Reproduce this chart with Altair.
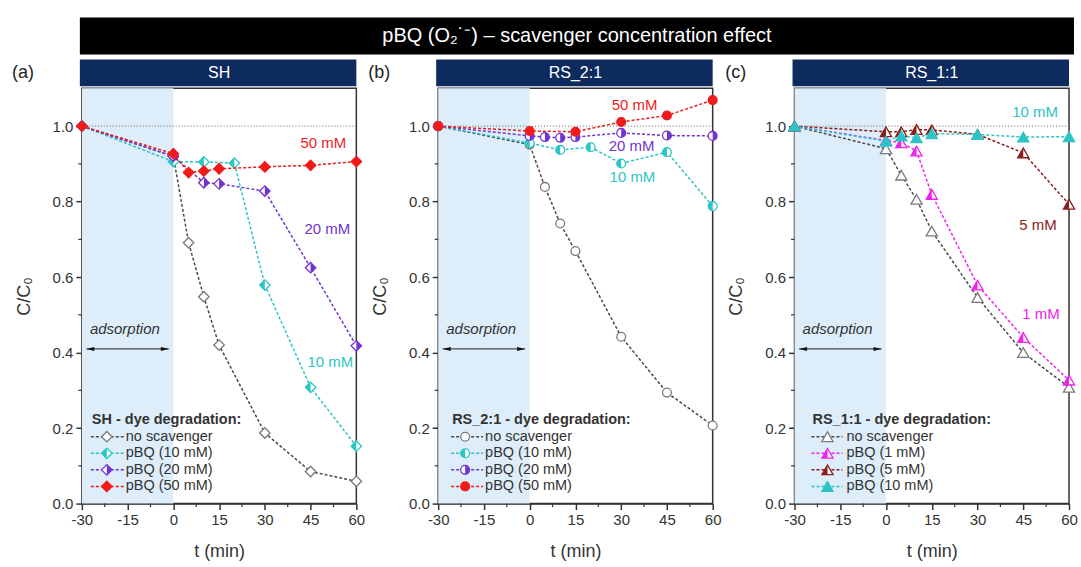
import altair as alt
import pandas as pd

# ---------------------------------------------------------------- data
# SH
A_T_NONE = [-30, 0, 5, 10, 15, 30, 45, 60]
A_V_NONE = [1.0, 0.92, 0.691, 0.548, 0.42, 0.187, 0.085, 0.059]
A_T_10 = [-30, 0, 10, 20, 30, 45, 60]
A_V_10 = [1.0, 0.906, 0.905, 0.902, 0.579, 0.308, 0.152]
A_T_20 = [-30, 0, 10, 15, 30, 45, 60]
A_V_20 = [1.0, 0.92, 0.85, 0.847, 0.828, 0.625, 0.418]
A_T_50 = [-30, 0, 5, 10, 15, 30, 45, 60]
A_V_50 = [1.0, 0.927, 0.877, 0.881, 0.887, 0.892, 0.896, 0.906]

# RS_2:1
B_T_NONE = [-30, 0, 5, 10, 15, 30, 45, 60]
B_V_NONE = [1.0, 0.951, 0.839, 0.742, 0.669, 0.442, 0.294, 0.207]
B_T_10 = [-30, 0, 10, 20, 30, 45, 60]
B_V_10 = [1.0, 0.955, 0.937, 0.944, 0.901, 0.931, 0.788]
B_T_20 = [-30, 0, 5, 10, 15, 30, 45, 60]
B_V_20 = [1.0, 0.974, 0.971, 0.969, 0.971, 0.982, 0.975, 0.974]
B_T_50 = [-30, 0, 15, 30, 45, 60]
B_V_50 = [1.0, 0.987, 0.985, 1.011, 1.028, 1.069]

# RS_1:1
C_T = [-30, 0, 5, 10, 15, 30, 45, 60]
C_V_NONE = [1.0, 0.94, 0.870, 0.806, 0.722, 0.546, 0.400, 0.308]
C_V_1 = [1.0, 0.962, 0.956, 0.934, 0.819, 0.579, 0.44, 0.327]
C_V_5 = [1.0, 0.985, 0.985, 0.991, 0.99, 0.978, 0.929, 0.793]
C_V_10 = [1.0, 0.96, 0.974, 0.969, 0.98, 0.978, 0.971, 0.972]

X_TICKS = [-30, -15, 0, 15, 30, 45, 60]
X_MINOR = [-22.5, -7.5, 7.5, 22.5, 37.5, 52.5]
Y_TICKS = [0.0, 0.2, 0.4, 0.6, 0.8, 1.0]
Y_MINOR = [0.1, 0.3, 0.5, 0.7, 0.9]
ADSORPTION = (-30, 0)

TITLE = "pBQ (O\u2082\u02d9\u207b) \u2013 scavenger concentration effect"

# ---------------------------------------------------------------- styles
FONT = "Liberation Sans"
INK = "#333333"
NAVY = "#0e2b5f"
SHADE = "#ddedfa"
GREY_LINE = "#4a4a4a"
GREY_MARK = "#7a7a7a"
CYAN = "#2cc4c4"
PURPLE = "#7234cf"
RED = "#f01a1a"
MAGENTA = "#f022ee"
DARKRED = "#8c1c1c"

DIAMOND, DIAMOND_L, DIAMOND_R = "diamond", "M0,-1L-1,0L0,1Z", "M0,-1L1,0L0,1Z"
CIRCLE, CIRCLE_L, CIRCLE_R = "circle", "M0,-1A1,1,0,0,0,0,1Z", "M0,-1A1,1,0,0,1,0,1Z"
TRI, TRI_L = "triangle-up", "M0,-0.866L-1,0.866L0,0.866Z"
HEAD_L = "M-1,0L1,-0.5L1,0.5Z"
HEAD_R = "M1,0L-1,-0.5L-1,0.5Z"

W, H = 275, 416
SPACING = 82
DASH = [3, 2]
LEG_FS = 14.5

X_ENC = alt.X("t:Q", scale=alt.Scale(domain=[-30, 60], nice=False, zero=False),
              axis=alt.Axis(values=X_TICKS, title="t (min)", grid=False, labelFlush=False,
                            titlePadding=15,
                            labelExpr="datum.value < 0 ? '-' + abs(datum.value) : datum.label"))
Y_ENC = alt.Y("v:Q", scale=alt.Scale(domain=[0, 1.1], nice=False),
              axis=alt.Axis(values=Y_TICKS, format=".1f", title="C/C\u2080", grid=False,
                            titlePadding=19))

ONE = pd.DataFrame({"k": [0]})


def series_layers(t, v, line_color, mark_color, shape, half, fill_color, size):
    df = pd.DataFrame({"t": t, "v": v})
    base = alt.Chart(df)
    layers = [
        base.mark_line(color=line_color, strokeDash=DASH, strokeWidth=1.5).encode(x=X_ENC, y=Y_ENC),
        base.mark_point(shape=shape, size=size, filled=True, fill="white", stroke=mark_color,
                        strokeWidth=1.3, opacity=1).encode(x=X_ENC, y=Y_ENC),
    ]
    if half:
        layers.append(base.mark_point(shape=half, size=size, filled=True, fill=fill_color,
                                      strokeWidth=0, opacity=1).encode(x=X_ENC, y=Y_ENC))
    return layers


def legend_layers(title, title_x, entries, line_x, mark_x, text_x):
    out = [alt.Chart(ONE).mark_text(text=title, align="left", fontWeight="bold", fontSize=LEG_FS,
                                    color=INK, font=FONT)
           .encode(x=alt.value(title_x), y=alt.value(332))]
    for i, (label, line_color, mark_color, shape, half, fill_color, size) in enumerate(entries):
        y = 349 + 16.6 * i
        out.append(alt.Chart(ONE).mark_rule(color=line_color, strokeDash=DASH, strokeWidth=1.5)
                   .encode(x=alt.value(line_x[0]), x2=alt.value(line_x[1]), y=alt.value(y)))
        out.append(alt.Chart(ONE).mark_point(shape=shape, size=size, filled=True, fill="white",
                                             stroke=mark_color, strokeWidth=1.3, opacity=1)
                   .encode(x=alt.value(mark_x), y=alt.value(y)))
        if half:
            out.append(alt.Chart(ONE).mark_point(shape=half, size=size, filled=True,
                                                 fill=fill_color, strokeWidth=0, opacity=1)
                       .encode(x=alt.value(mark_x), y=alt.value(y)))
        out.append(alt.Chart(ONE).mark_text(text=label, align="left", fontSize=LEG_FS, color=INK,
                                            font=FONT)
                   .encode(x=alt.value(text_x), y=alt.value(y)))
    return out


def frame_layers(header, letter):
    shade = alt.Chart(pd.DataFrame({"t": [ADSORPTION[0]], "t2": [ADSORPTION[1]]})).mark_rect(
        color=SHADE).encode(x=X_ENC, x2="t2", y=alt.value(0), y2=alt.value(H))
    ref = alt.Chart(pd.DataFrame({"v": [1.0]})).mark_rule(
        color="#666666", strokeDash=[1, 2], strokeWidth=1).encode(y=Y_ENC)
    xminor = alt.Chart(pd.DataFrame({"t": X_MINOR})).mark_rule(color=INK, strokeWidth=1.2).encode(
        x=X_ENC, y=alt.value(H), y2=alt.value(H + 3.5))
    yminor = alt.Chart(pd.DataFrame({"v": Y_MINOR})).mark_rule(color=INK, strokeWidth=1.2).encode(
        y=Y_ENC, x=alt.value(0), x2=alt.value(-3.5))
    arrow_df = pd.DataFrame({"t": [-28.5], "t2": [-1.5]})
    arrow = alt.Chart(arrow_df).mark_rule(color="#222222", strokeWidth=1).encode(
        x=X_ENC, x2="t2", y=alt.value(261))
    head_l = alt.Chart(pd.DataFrame({"t": [-27.2]})).mark_point(
        shape=HEAD_L, size=64, filled=True, fill="#111111", strokeWidth=0, opacity=1).encode(
        x=X_ENC, y=alt.value(261))
    head_r = alt.Chart(pd.DataFrame({"t": [-2.8]})).mark_point(
        shape=HEAD_R, size=64, filled=True, fill="#111111", strokeWidth=0, opacity=1).encode(
        x=X_ENC, y=alt.value(261))
    ads = alt.Chart(pd.DataFrame({"t": [-15.9]})).mark_text(
        text="adsorption", fontStyle="italic", fontSize=15, color=INK, font=FONT).encode(
        x=X_ENC, y=alt.value(241))
    head_rect = alt.Chart(ONE).mark_rect(color=NAVY).encode(
        x=alt.value(-2), x2=alt.value(W), y=alt.value(-29), y2=alt.value(-2))
    head_txt = alt.Chart(ONE).mark_text(text=header, color="white", fontSize=16, font=FONT).encode(
        x=alt.value(W / 2), y=alt.value(-15))
    let_txt = alt.Chart(ONE).mark_text(text=letter, color="#222222", fontSize=18, font=FONT).encode(
        x=alt.value(-59), y=alt.value(-15))
    back = [shade, ref, xminor, yminor]
    front = [arrow, head_l, head_r, ads, head_rect, head_txt, let_txt]
    return back, front


def notes_layers(notes):
    out = []
    for label, t, v, color in notes:
        out.append(alt.Chart(pd.DataFrame({"t": [t], "v": [v]})).mark_text(
            text=label, fontSize=15, color=color, font=FONT).encode(x=X_ENC, y=Y_ENC))
    return out


# ---------------------------------------------------------------- panels
a_series = [
    ("no scavenger", A_T_NONE, A_V_NONE, GREY_LINE, GREY_MARK, DIAMOND, None, None, 110),
    ("pBQ (10 mM)", A_T_10, A_V_10, CYAN, CYAN, DIAMOND, DIAMOND_L, CYAN, 110),
    ("pBQ (20 mM)", A_T_20, A_V_20, PURPLE, PURPLE, DIAMOND, DIAMOND_R, PURPLE, 110),
    ("pBQ (50 mM)", A_T_50, A_V_50, RED, RED, DIAMOND, DIAMOND, RED, 110),
]
b_series = [
    ("no scavenger", B_T_NONE, B_V_NONE, GREY_LINE, GREY_MARK, CIRCLE, None, None, 78),
    ("pBQ (10 mM)", B_T_10, B_V_10, CYAN, CYAN, CIRCLE, CIRCLE_L, CYAN, 78),
    ("pBQ (20 mM)", B_T_20, B_V_20, PURPLE, PURPLE, CIRCLE, CIRCLE_R, PURPLE, 78),
    ("pBQ (50 mM)", B_T_50, B_V_50, RED, RED, CIRCLE, CIRCLE, RED, 78),
]
c_series = [
    ("no scavenger", C_T, C_V_NONE, GREY_LINE, GREY_MARK, TRI, None, None, 125),
    ("pBQ (1 mM)", C_T, C_V_1, MAGENTA, MAGENTA, TRI, TRI_L, MAGENTA, 125),
    ("pBQ (5 mM)", C_T, C_V_5, DARKRED, DARKRED, TRI, TRI_L, DARKRED, 125),
    ("pBQ (10 mM)", C_T, C_V_10, CYAN, CYAN, TRI, TRI, CYAN, 125),
]

a_notes = [("50 mM", 49.2, 0.955, RED), ("20 mM", 50.5, 0.727, PURPLE), ("10 mM", 51.5, 0.376, CYAN)]
b_notes = [("50 mM", 34.4, 1.056, RED), ("20 mM", 33.4, 0.947, PURPLE), ("10 mM", 33.7, 0.865, CYAN)]
c_notes = [("10 mM", 48.9, 1.037, CYAN), ("5 mM", 49.8, 0.738, DARKRED), ("1 mM", 50.8, 0.503, MAGENTA)]


def build(header, letter, series, notes, legend_title, title_x, line_x, mark_x, text_x, extra=()):
    back, front = frame_layers(header, letter)
    layers = list(back)
    for _, t, v, lc, mc, shp, half, fc, size in series:
        layers += series_layers(t, v, lc, mc, shp, half, fc, size)
    layers += notes_layers(notes)
    entries = [(lab, lc, mc, shp, half, fc, size) for lab, _, _, lc, mc, shp, half, fc, size in series]
    layers += legend_layers(legend_title, title_x, entries, line_x, mark_x, text_x)
    layers += front
    layers += list(extra)
    return alt.layer(*layers).properties(width=W, height=H)


# banner across all three panels plus white canvas anchors
banner = [
    alt.Chart(ONE).mark_rect(color="black").encode(
        x=alt.value(-2), x2=alt.value(994), y=alt.value(-71), y2=alt.value(-34)),
    alt.Chart(ONE).mark_text(text=TITLE, color="white", fontSize=20, font=FONT).encode(
        x=alt.value(496), y=alt.value(-52)),
    alt.Chart(ONE).mark_rect(color="white").encode(
        x=alt.value(-81), x2=alt.value(-80), y=alt.value(-87), y2=alt.value(-86)),
]
corner = [
    alt.Chart(ONE).mark_rect(color="white").encode(
        x=alt.value(285), x2=alt.value(286), y=alt.value(479), y2=alt.value(480)),
]

pa = build("SH", "(a)", a_series, a_notes, "SH - dye degradation:", 10, (9, 42), 25, 44, banner)
pb = build("RS_2:1", "(b)", b_series, b_notes, "RS_2:1 - dye degradation:", 14, (13, 45), 27, 47)
pc = build("RS_1:1", "(c)", c_series, c_notes, "RS_1:1 - dye degradation:", 18, (17, 48), 33, 52, corner)

chart = alt.hconcat(pa, pb, pc, spacing=SPACING, bounds="flush").properties(
    padding=0, background="white"
).configure_view(
    stroke=INK, strokeWidth=1.5
).configure_axis(
    labelFont=FONT, titleFont=FONT, labelFontSize=15, titleFontSize=18, titleFontWeight="normal",
    labelColor=INK, titleColor=INK, domainColor=INK, tickColor=INK, domainWidth=1.5,
    tickWidth=1.5, tickSize=6, labelPadding=3
)

chart.save("out.html", embed_options={"renderer": "svg", "actions": False})
